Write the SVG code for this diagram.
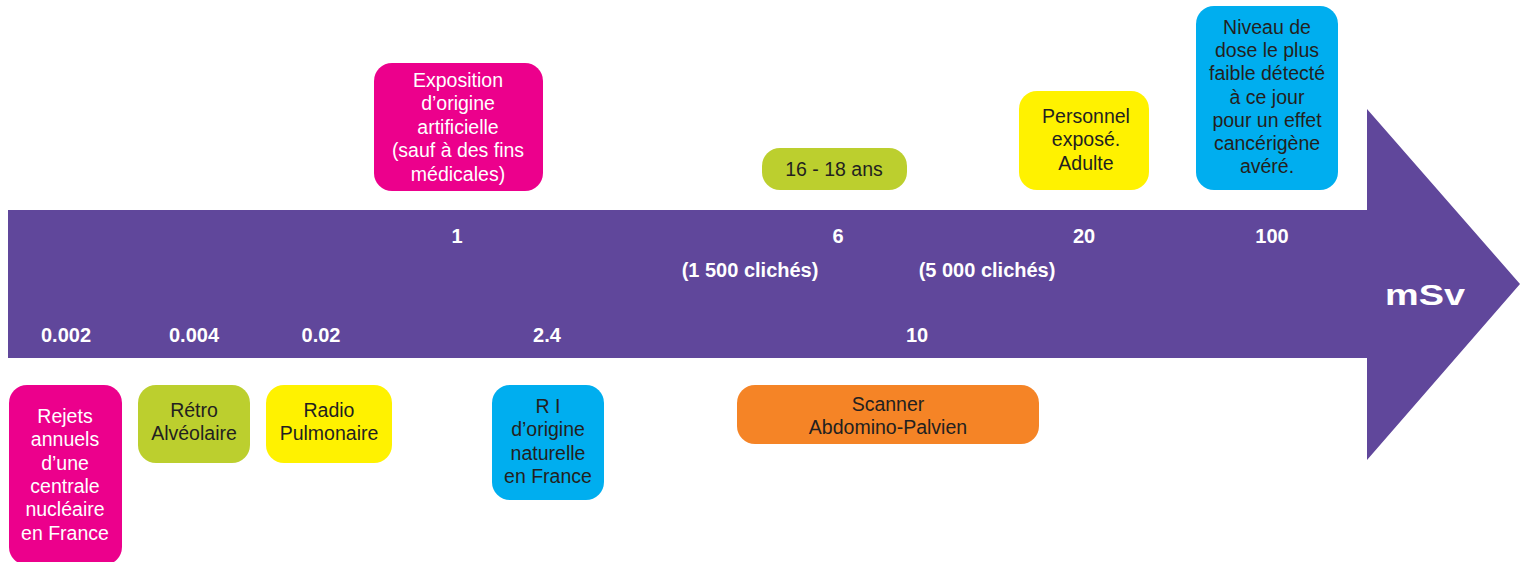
<svg xmlns="http://www.w3.org/2000/svg" width="1523" height="562" viewBox="0 0 1523 562">
<style>
.box text{font-family:"Liberation Sans",Arial,sans-serif;font-size:19.5px;text-anchor:middle}
.dk{fill:#231f20}
.wt{fill:#ffffff}
.val{font-family:"Liberation Sans",Arial,sans-serif;font-size:20px;font-weight:bold;fill:#ffffff;text-anchor:middle}
.mag{fill:#ec008c}.grn{fill:#bccf2e}.yel{fill:#fff200}.cyn{fill:#00aeef}.org{fill:#f58426}
</style>
<rect width="1523" height="562" fill="#ffffff"/>
<g id="axis">
<path d="M8 210 H1367 V109 L1520 284 L1367 460 V358 H8 Z" fill="#60479b"/>
<text x="1425" y="305" font-family="Liberation Sans,Arial,sans-serif" font-size="29" font-weight="bold" fill="#ffffff" text-anchor="middle" textLength="80" lengthAdjust="spacingAndGlyphs">mSv</text>
<text class="val" x="457" y="243">1</text>
<text class="val" x="838" y="243">6</text>
<text class="val" x="1084" y="243">20</text>
<text class="val" x="1272" y="243">100</text>
<text class="val" x="750" y="277">(1 500 clichés)</text>
<text class="val" x="987" y="277">(5 000 clichés)</text>
<text class="val" x="66" y="342">0.002</text>
<text class="val" x="194" y="342">0.004</text>
<text class="val" x="321" y="342">0.02</text>
<text class="val" x="547" y="342">2.4</text>
<text class="val" x="917" y="342">10</text>
</g>
<g id="rejets" class="box">
<rect class="mag" x="9" y="385" width="113" height="180" rx="18"/>
<text class="wt" x="65" y="423">Rejets</text>
<text class="wt" x="65" y="446">annuels</text>
<text class="wt" x="65" y="470">d’une</text>
<text class="wt" x="65" y="493">centrale</text>
<text class="wt" x="65" y="516">nucléaire</text>
<text class="wt" x="65" y="540">en France</text>
</g>
<g id="retro" class="box">
<rect class="grn" x="138" y="385" width="112" height="78" rx="18"/>
<text class="dk" x="194" y="417">Rétro</text>
<text class="dk" x="194" y="440">Alvéolaire</text>
</g>
<g id="radio" class="box">
<rect class="yel" x="266" y="385" width="126" height="78" rx="18"/>
<text class="dk" x="329" y="417">Radio</text>
<text class="dk" x="329" y="440">Pulmonaire</text>
</g>
<g id="ri" class="box">
<rect class="cyn" x="492" y="385" width="112" height="115" rx="18"/>
<text class="dk" x="548" y="413">R I</text>
<text class="dk" x="548" y="436">d’origine</text>
<text class="dk" x="548" y="460">naturelle</text>
<text class="dk" x="548" y="483">en France</text>
</g>
<g id="scanner" class="box">
<rect class="org" x="737" y="385" width="302" height="59" rx="18"/>
<text class="dk" x="888" y="411">Scanner</text>
<text class="dk" x="888" y="434">Abdomino-Palvien</text>
</g>
<g id="exposition" class="box">
<rect class="mag" x="374" y="63" width="169" height="128" rx="18"/>
<text class="wt" x="458" y="87">Exposition</text>
<text class="wt" x="458" y="110">d’origine</text>
<text class="wt" x="458" y="134">artificielle</text>
<text class="wt" x="458" y="157">(sauf à des fins</text>
<text class="wt" x="458" y="181">médicales)</text>
</g>
<g id="age" class="box">
<rect class="grn" x="762" y="148" width="145" height="42" rx="18"/>
<text class="dk" x="834" y="176">16 - 18 ans</text>
</g>
<g id="personnel" class="box">
<rect class="yel" x="1019" y="91" width="130" height="99" rx="18"/>
<text class="dk" x="1086" y="123">Personnel</text>
<text class="dk" x="1086" y="146">exposé.</text>
<text class="dk" x="1086" y="170">Adulte</text>
</g>
<g id="niveau" class="box">
<rect class="cyn" x="1196" y="6" width="142" height="184" rx="18"/>
<text class="dk" x="1267" y="34">Niveau de</text>
<text class="dk" x="1267" y="57">dose le plus</text>
<text class="dk" x="1267" y="80">faible détecté</text>
<text class="dk" x="1267" y="104">à ce jour</text>
<text class="dk" x="1267" y="127">pour un effet</text>
<text class="dk" x="1267" y="150">cancérigène</text>
<text class="dk" x="1267" y="173">avéré.</text>
</g>
<g id="connectors"></g>
</svg>
